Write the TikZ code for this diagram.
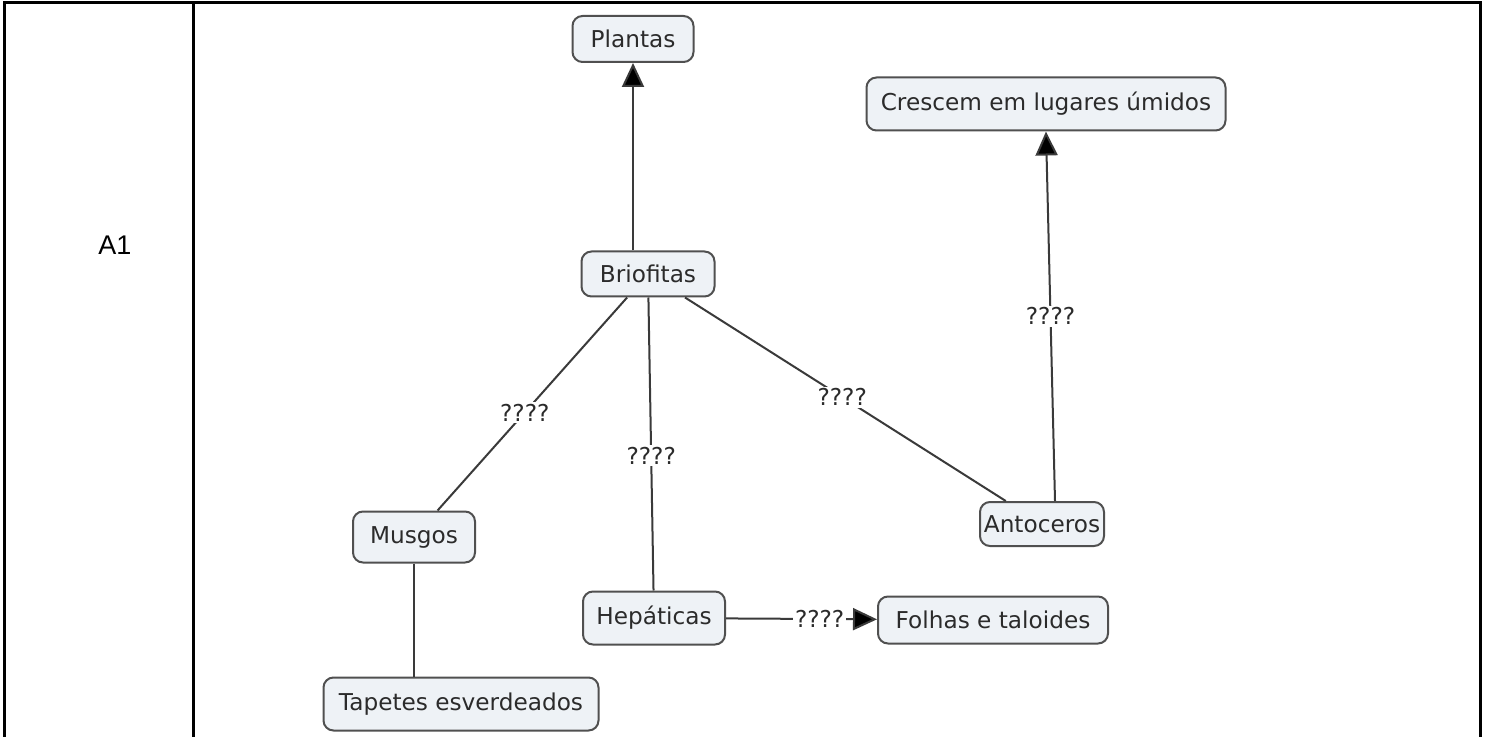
\documentclass[tikz,border=0pt]{standalone}
\usepackage{fontspec}
\setmainfont{DejaVu Sans}
\newfontfamily\cellfont{Liberation Sans}
\usetikzlibrary{arrows.meta}
\definecolor{boxfill}{HTML}{EEF2F6}
\definecolor{boxline}{HTML}{505050}
\definecolor{inktext}{HTML}{2B2B2B}
\definecolor{linkline}{HTML}{3A3A3A}
\tikzset{
  concept/.style={draw=boxline, line width=1pt, fill=boxfill, rounded corners=5pt,
    text=inktext, font=\fontsize{11.6}{13}\selectfont, inner sep=0pt, align=center},
  link/.style={draw=linkline, line width=1pt},
  arrowlink/.style={link, -{Triangle[length=12pt,width=11pt,fill=black]}},
  linklabel/.style={fill=white, inner sep=1pt, text=inktext, font=\fontsize{11.6}{13}\selectfont},
  rule/.style={line width=1.5pt, black}
}
\begin{document}
\begin{tikzpicture}[x=0.5pt, y=-0.5pt]
\useasboundingbox (0,0) rectangle (1487,737);
% table frame
\draw[rule] (4,737) -- (4,3) -- (1480,3) -- (1480,737);
\draw[rule] (193,3) -- (193,737);
\node[font=\cellfont\fontsize{13.5}{15}\selectfont] (cell) at (115,245) {A1};

% concepts
\node[concept, minimum width=60.5pt, minimum height=23pt] (plantas) at (633,39) {Plantas};
\node[concept, minimum width=179.5pt, minimum height=26.5pt] (crescem) at (1046,104) {Crescem em lugares úmidos};
\node[concept, minimum width=66.5pt, minimum height=22.5pt] (briofitas) at (648,274) {Briofitas};
\node[concept, minimum width=61pt, minimum height=25.5pt] (musgos) at (414,537) {Musgos};
\node[concept, minimum width=62pt, minimum height=22pt] (antoceros) at (1042,524) {Antoceros};
\node[concept, minimum width=71pt, minimum height=26.5pt] (hepaticas) at (654,618) {Hepáticas};
\node[concept, minimum width=115pt, minimum height=23.5pt] (folhas) at (993,620) {Folhas e taloides};
\node[concept, minimum width=137.5pt, minimum height=26.5pt] (tapetes) at (461,704) {Tapetes esverdeados};

% links
\draw[arrowlink] ([xshift=-7.5pt]briofitas.north) -- (plantas.south);
\draw[link] (briofitas) -- node[linklabel, pos=0.54] {????} (musgos);
\draw[link] (briofitas) -- node[linklabel, pos=0.54] {????} (hepaticas);
\draw[link] (briofitas) -- node[linklabel, pos=0.49] {????} (antoceros);
\draw[arrowlink] ([xshift=6.5pt]antoceros.north) -- node[linklabel, pos=0.5] {????} (crescem.south);
\draw[link] (musgos) -- (musgos |- tapetes.north);
\draw[arrowlink] (hepaticas) -- node[linklabel, pos=0.62] {????} (folhas);
\end{tikzpicture}
\end{document}
